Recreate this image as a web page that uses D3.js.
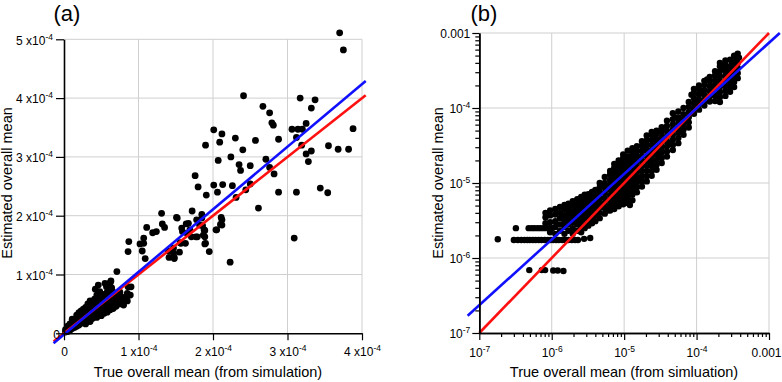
<!DOCTYPE html>
<html>
<head>
<meta charset="utf-8">
<script src="https://cdn.jsdelivr.net/npm/d3@7"></script>
<style>
  body { margin: 0; background: #fff; }
  svg { display: block; font-family: "Liberation Sans", Arial, sans-serif; }
</style>
</head>
<body>
<svg id="chart" width="782" height="382"></svg>
<script>
// ---- panel (a): values in units of 1e-4 ----
var ticksA = [0, 1, 2, 3, 4, 5];
// scattered points, [true, estimated]
var scatterA = [
  [3.70,5.11],[3.75,4.82],[2.41,4.04],[2.67,3.86],[2.76,3.75],[2.79,3.58],[2.81,3.54],[3.17,4.00],
  [3.37,3.97],[3.32,3.83],[3.06,3.47],[3.14,3.47],[3.20,3.47],[3.25,3.57],[3.12,3.33],[3.19,3.20],
  [3.25,3.05],[3.32,3.10],[3.28,2.92],[3.55,3.19],[3.68,3.13],[3.82,3.13],[3.88,3.48],[3.44,2.47],
  [3.54,2.39],[3.12,2.40],[2.88,2.40],[2.88,3.30],[2.82,2.71],[2.76,2.82],[2.71,2.96],[2.57,3.28],
  [2.50,2.85],[2.44,2.44],[2.40,3.12],[2.30,3.32],[2.35,2.87],[2.37,2.77],[2.24,3.00],[2.12,3.39],
  [2.09,3.25],[2.01,3.46],[1.90,3.20],[2.07,2.94],[2.06,2.40],[2.01,2.52],[2.13,2.53],[2.26,2.51],
  [1.76,2.68],[1.80,2.49],[1.91,2.35],[2.50,2.54],[2.31,2.31],[2.61,2.13],[3.09,1.62],[2.23,1.21],
  [1.72,2.08],[1.85,2.02],[2.11,1.97],[2.10,1.85],[2.04,1.76],[1.86,1.83],[1.88,1.76],[1.90,1.53],
  [1.95,1.39],[1.79,1.64],[1.71,1.64],[1.65,1.70],[1.58,1.79],[1.67,1.87],[1.51,1.97],[1.56,1.54],
  [1.55,1.38],[1.48,1.29],[1.41,1.29],[1.47,1.45],[1.31,2.04],[1.32,1.86],[1.35,1.80],[1.24,1.73],
  [1.19,1.71],[1.11,1.80],[1.07,1.62],[1.07,1.53],[1.02,1.52],[1.05,1.40],[1.09,1.27],[0.87,1.56],
  [0.86,1.39],[0.71,1.05],[1.40,1.40],[1.47,1.36],[1.48,1.27],[1.63,1.53],[1.57,1.53],[1.52,1.96],
  [1.59,1.73],[1.64,1.86],[1.69,1.76],[1.78,1.93],[1.82,1.84],[1.89,1.75],[1.89,1.64],[1.77,1.64],
  [1.87,1.67],[1.89,1.52],[2.05,1.76],[2.12,1.93],[2.12,1.84],[1.85,1.96],
  [0.90,0.79],[0.84,0.62],[0.63,0.89],[0.62,0.86],[0.55,0.85],[0.46,0.82],[0.42,0.75],[0.48,0.71],
  [0.57,0.79],[0.64,0.77],[0.71,0.68],[0.75,0.57],[0.89,0.65],[0.86,0.79],[0.77,0.62],[0.59,0.48],[0.53,0.45]
];
// dense band near the origin: [true, [estimated...]]
var bandA = [
  [0.02,[0.02,0.06]],[0.05,[0.03,0.08,0.12]],[0.08,[0.05,0.10,0.16]],[0.11,[0.08,0.13,0.19,0.24]],
  [0.14,[0.10,0.16,0.22]],[0.17,[0.12,0.19,0.26,0.31]],[0.20,[0.14,0.21,0.28,0.35]],
  [0.23,[0.17,0.24,0.31,0.38]],[0.26,[0.19,0.27,0.34,0.41]],[0.29,[0.16,0.23,0.30,0.37,0.44]],
  [0.32,[0.22,0.29,0.36,0.43,0.50]],[0.35,[0.20,0.27,0.34,0.41,0.48,0.55]],[0.38,[0.25,0.32,0.39,0.46,0.53]],
  [0.41,[0.29,0.36,0.43,0.50,0.58]],[0.44,[0.27,0.34,0.41,0.48,0.55,0.65]],[0.47,[0.31,0.38,0.45,0.52,0.60]],
  [0.50,[0.30,0.37,0.44,0.51,0.58,0.66]],[0.54,[0.34,0.42,0.50,0.58,0.66]],[0.58,[0.36,0.44,0.53,0.62,0.70]],
  [0.62,[0.40,0.48,0.57,0.66]],[0.66,[0.42,0.52,0.61,0.70]],[0.70,[0.46,0.55,0.64]],
  [0.75,[0.50,0.60,0.70]],[0.80,[0.48,0.58]],[0.85,[0.55,0.68]]
];
var redA = [[-0.14,-0.14],[4.05,4.05]];
var blueA = [[-0.14,-0.17],[4.05,4.29]];

// ---- panel (b): values in units of 1e-6 ----
var decadesB = [0.1, 1, 10, 100, 1000];
var rowsB = [
  [0.18,1.78],[0.30,1.74],[0.34,1.74],[0.38,1.74],[0.42,1.74],[0.46,1.74],[0.50,1.74],[0.55,1.74],
  [0.60,1.74],[0.66,1.74],[0.72,1.74],[0.80,1.74],[0.88,1.74],[0.96,1.74],[1.05,1.74],[1.15,1.74],
  [1.25,1.74],[1.40,1.74],[1.55,1.74],[1.70,1.74],[1.90,1.74],[2.10,1.74],[2.30,1.74],[2.80,1.80],[3.40,1.85],
  [0.32,2.5],[0.48,2.5],[0.53,2.5],[0.58,2.5],[0.64,2.5],[0.70,2.5],[0.77,2.5],[0.85,2.5],[0.92,2.5],[1.0,2.5],
  [0.49,0.69],[0.73,0.69],[0.81,0.69],[1.05,0.68],[1.21,0.68],[1.45,0.67]
];
var cloudB = [
  [0.82,[2.9,3.5,4.0]],[0.95,[2.2,3.0,3.7,4.3]],[1.12,[2.1,2.6,3.1,3.8,4.5]],
  [1.3,[2.3,2.8,3.4,4.0,4.8]],[1.5,[2.1,2.6,3.1,3.7,4.4,5.1]],[1.7,[2.3,2.8,3.3,3.9,4.6,5.3]],
  [1.95,[2.1,2.5,3.0,3.6,4.2,5.0,5.7]],[2.25,[2.3,2.8,3.3,3.9,4.6,5.4,6.1]],
  [2.55,[2.2,2.6,3.1,3.7,4.3,5.1,5.9,6.5]],[2.85,[2.5,2.9,3.5,4.1,4.8,5.6,6.6,7.0]],
  [3.2,[2.7,3.2,3.7,4.4,5.2,6.1,7.1]],[3.6,[2.9,3.4,4.0,4.7,5.5,6.5,7.6]],
  [4.0,[3.1,3.7,4.3,5.0,5.9,6.9,8.1]],[4.6,[3.4,4.0,4.7,5.5,6.4,7.5,8.8,10]],
  [5.4,[3.9,4.6,5.4,6.3,7.4,8.7,10,12]],[6.4,[4.3,5.0,5.9,6.9,8.1,9.5,11,13,14.5]],
  [7.3,[4.5,5.3,6.2,7.3,8.5,10,11.7,13.7,16,18]],[8.4,[4.9,5.8,6.8,8.0,9.3,11,12.8,15,17.5,20]],
  [9.7,[5.2,6.1,7.1,8.3,9.7,11.4,13.3,15.6,18.2,21.5,24]],
  [11.2,[5.4,6.4,7.5,8.8,10.3,12,14,16.5,19.3,22.6,27]],
  [13,[5.9,7.0,8.2,9.6,11.2,13.1,15.4,18,21,24.6,29]],
  [15,[7.5,8.8,10.3,12,14,16.4,19.2,22.5,26.3,31]],
  [17.6,[9.0,10.5,12.3,14.4,16.8,19.7,23,27,31.5,36]],
  [20.5,[10.5,12.3,14.4,16.8,19.7,23,27,31.6,37,43]],
  [24,[12.5,14.6,17.1,20,23.4,27.4,32,37.5,44,48]],
  [28,[15,17.5,20.5,24,28,32.8,38.4,45,50]],
  [33,[18.5,21.6,25.3,29.6,34.6,40.5,47.4,55.5]],
  [39,[22.5,26.3,30.8,36,42.1,49.3,57.7,67.5]],
  [47,[27.5,32.2,37.7,44.1,51.6,60.4,70.7,85]],
  [56,[34,39.8,46.6,54.5,63.8,74.6,90]],
  [66,[44,51.5,60.3,70.5,82.5,100]],
  [78,[55,64.4,75.3,88.1,103,120]],
  [92,[84,98,115,135,158,180]],
  [108,[95,111,130,152,178,200]],
  [128,[108,126,148,173,202,230]],
  [152,[122,143,167,195,228,260]],
  [180,[124,145,170,199,233,272,310]],
  [210,[120,140,164,192,225,263,308,360,400]],
  [250,[145,170,199,233,272,318,372,430]],
  [290,[165,193,226,264,309,362,440]],
  [330,[190,222,260,304,356,420,500]],
  [370,[250,292,342,400,470,530]]
];
var extraB = [
  [1.0,2.45],[1.4,3.55],[2.1,4.9],[3.0,5.9],[3.4,3.0],[4.3,6.2],[5.0,9.2],[5.9,4.3],[6.9,11.5],
  [7.8,6.6],[9.0,14],[10.4,19],[12,5.1],[14,25],[16.3,11],[19,30],[22,18],[26,40],[30,22],[36,52],
  [43,34],[51,75],[61,48],[72,68],[85,150],[100,120],[118,165],[140,240],[165,195],[195,290],
  [230,350],[270,250],[310,390],[350,300],[385,470]
];
var redB = [[0.1,0.1],[1000,1000]];
var blueB = [[0.069,0.17],[1410,1000]];

var svg = d3.select('#chart');
var titleFont = 14.5, tickFont = 12;

function flatCols(cols) {
  var out = [];
  cols.forEach(function(c) { c[1].forEach(function(y) { out.push([c[0], y]); }); });
  return out;
}

// tick label with superscript exponent
function supLabel(sel, base, exp) {
  sel.text(null);
  sel.append('tspan').text(base);
  if (exp !== null) {
    sel.append('tspan').attr('dy', -5).attr('font-size', 8.5).text(exp);
  }
}

function drawGrid(g, x, y, xv, yv) {
  g.selectAll('line.gx').data(xv).enter().append('line')
    .attr('x1', x).attr('x2', x).attr('y1', y.range()[0]).attr('y2', y.range()[1])
    .attr('stroke', '#cfcfcf').attr('stroke-width', 1);
  g.selectAll('line.gy').data(yv).enter().append('line')
    .attr('y1', y).attr('y2', y).attr('x1', x.range()[0]).attr('x2', x.range()[1])
    .attr('stroke', '#cfcfcf').attr('stroke-width', 1);
}

function styleAxis(ax) {
  ax.select('.domain').attr('stroke', '#000').attr('stroke-width', 1.6);
  ax.selectAll('.tick line').attr('stroke', '#000').attr('stroke-width', 1.2);
}

function drawDots(g, pts, x, y, r) {
  g.selectAll('circle.d').data(pts).enter().append('circle')
    .attr('cx', function(d) { return x(d[0]); })
    .attr('cy', function(d) { return y(d[1]); })
    .attr('r', r).attr('fill', '#000');
}

function drawLine(g, pts, x, y, color) {
  g.append('path').datum(pts)
    .attr('d', d3.line().x(function(d) { return x(d[0]); }).y(function(d) { return y(d[1]); }))
    .attr('stroke', color).attr('stroke-width', 2.6).attr('fill', 'none');
}

// ---------- panel (a) ----------
var xA = d3.scaleLinear().domain([0, 4]).range([64, 362]);
var yA = d3.scaleLinear().domain([0, 5]).range([333.3, 39.3]);
var gA = svg.append('g');
drawGrid(gA, xA, yA, [1, 2, 3, 4], [1, 2, 3, 4, 5]);
drawDots(gA, scatterA.concat(flatCols(bandA)), xA, yA, 3.4);
drawLine(gA, redA, xA, yA, '#ff1010');
drawLine(gA, blueA, xA, yA, '#1010ff');

var axLA = gA.append('g').attr('transform', 'translate(64,0)')
  .call(d3.axisLeft(yA).tickValues(ticksA).tickSize(8).tickSizeOuter(0).tickPadding(3));
var axBA = gA.append('g').attr('transform', 'translate(0,333.3)')
  .call(d3.axisBottom(xA).tickValues(ticksA.slice(0, 5)).tickSize(7).tickSizeOuter(0).tickPadding(7));
[axLA, axBA].forEach(function(ax) {
  styleAxis(ax);
  ax.selectAll('.tick text').attr('font-size', tickFont).attr('fill', '#000')
    .attr('font-family', '"Liberation Sans", Arial, sans-serif')
    .each(function(d) {
      if (d === 0) supLabel(d3.select(this), '0', null);
      else supLabel(d3.select(this), d + ' x10', '-4');
    });
});
axLA.selectAll('.tick text').attr('dy', '0.4em');
axLA.selectAll('.tick').filter(function(d) { return d === 0; }).select('text').attr('x', -4);

svg.append('text').attr('x', 67).attr('y', 21).attr('text-anchor', 'middle')
  .attr('font-size', 22).text('(a)');
svg.append('text').attr('x', 208).attr('y', 377).attr('text-anchor', 'middle')
  .attr('font-size', titleFont).text('True overall mean (from simulation)');
svg.append('text').attr('transform', 'translate(12,183) rotate(-90)').attr('text-anchor', 'middle')
  .attr('font-size', titleFont).text('Estimated overall mean');

// ---------- panel (b) ----------
var xB = d3.scaleLog().domain([0.1, 1000]).range([479.3, 769]);
var yB = d3.scaleLog().domain([0.1, 1000]).range([333, 33]);
var gB = svg.append('g');
drawGrid(gB, xB, yB, decadesB.slice(1), decadesB.slice(1));
drawDots(gB, rowsB.concat(flatCols(cloudB), extraB), xB, yB, 3.2);
drawLine(gB, redB, xB, yB, '#ff1010');
drawLine(gB, blueB, xB, yB, '#1010ff');

var minorB = [];
decadesB.slice(0, 4).forEach(function(d) {
  for (var k = 2; k <= 9; k++) minorB.push(d * k);
});
gB.append('g').attr('transform', 'translate(479.3,0)')
  .call(d3.axisLeft(yB).tickValues(minorB).tickSize(4).tickSizeOuter(0).tickFormat(''))
  .call(styleAxis);
gB.append('g').attr('transform', 'translate(0,333)')
  .call(d3.axisBottom(xB).tickValues(minorB).tickSize(4).tickSizeOuter(0).tickFormat(''))
  .call(styleAxis);

var labelB = { '0.1': '-7', '1': '-6', '10': '-5', '100': '-4' };
var axLB = gB.append('g').attr('transform', 'translate(479.3,0)')
  .call(d3.axisLeft(yB).tickValues(decadesB).tickSize(7).tickSizeOuter(0).tickPadding(2));
var axBB = gB.append('g').attr('transform', 'translate(0,333)')
  .call(d3.axisBottom(xB).tickValues(decadesB).tickSize(7).tickSizeOuter(0).tickPadding(8));
[axLB, axBB].forEach(function(ax) {
  styleAxis(ax);
  ax.selectAll('.tick text').attr('font-size', tickFont).attr('fill', '#000')
    .attr('font-family', '"Liberation Sans", Arial, sans-serif')
    .each(function(d) {
      if (d === 1000) supLabel(d3.select(this), '0.001', null);
      else supLabel(d3.select(this), '10', labelB[String(d)]);
    });
});
axLB.selectAll('.tick text').attr('dy', '0.4em');
// keep the last x label inside the frame
axBB.selectAll('.tick').filter(function(d) { return d === 1000; }).select('text')
  .attr('text-anchor', 'end').attr('x', 12);

svg.append('text').attr('x', 484).attr('y', 21).attr('text-anchor', 'middle')
  .attr('font-size', 22).text('(b)');
svg.append('text').attr('x', 624).attr('y', 377).attr('text-anchor', 'middle')
  .attr('font-size', titleFont).text('True overall mean (from simluation)');
svg.append('text').attr('transform', 'translate(443,183) rotate(-90)').attr('text-anchor', 'middle')
  .attr('font-size', titleFont).text('Estimated overall mean');
</script>
</body>
</html>
